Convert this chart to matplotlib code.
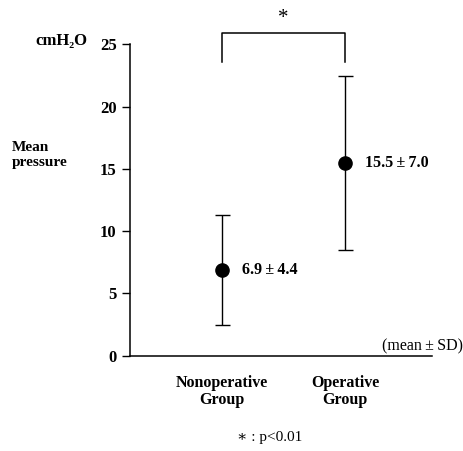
import matplotlib.pyplot as plt

groups = ["Nonoperative\nGroup", "Operative\nGroup"]
means = [6.9, 15.5]
sds = [4.4, 7.0]
labels = ["6.9\u2009\u00b1\u20094.4", "15.5\u2009\u00b1\u20097.0"]
yticks = [0, 5, 10, 15, 20, 25]

serif = ["Liberation Serif", "DejaVu Serif"]
plt.rcParams["font.family"] = serif

fig = plt.figure(figsize=(4.64, 4.51), dpi=100)
ax = fig.add_axes([0.280, 0.2113, 0.651, 0.773])

xpos = [1, 2]
ax.errorbar(xpos, means, yerr=sds, fmt="o", color="black", ms=9.5,
            capsize=5.4, capthick=1.0, elinewidth=1.0)

for x, m, lab in zip(xpos, means, labels):
    ax.text(x + 0.165, m, lab, fontsize=11.5, fontweight="bold",
            va="center", ha="left")

# significance bracket
ax.plot([1, 1, 2, 2], [23.6, 25.9, 25.9, 23.6], color="black", lw=1.1,
        clip_on=False)
ax.text(1.5, 26.3, "*", fontsize=15, ha="center", va="bottom")

ax.set_xlim(0.252, 2.707)
ax.set_ylim(0, 28)
ax.set_yticks(yticks)
ax.set_yticklabels([str(t) for t in yticks], fontsize=12, fontweight="bold")
ax.set_xticks(xpos)
ax.set_xticklabels(groups, fontsize=11.5, fontweight="bold", linespacing=1.1)
ax.tick_params(axis="x", length=0, pad=14)
ax.tick_params(axis="y", length=6, width=1.0, pad=3.5)

for s in ["top", "right"]:
    ax.spines[s].set_visible(False)
ax.spines["left"].set_bounds(0, 25)
ax.spines["left"].set_linewidth(1.1)
ax.spines["bottom"].set_linewidth(1.1)

fig.text(35 / 464, 1 - 41 / 451, "cmH\u2082O", fontsize=12, fontweight="bold",
         va="center", ha="left")
fig.text(12 / 464, 1 - 155 / 451, "Mean\npressure", fontsize=11,
         fontweight="bold", va="center", ha="left", linespacing=1.25)
fig.text(463 / 464, 1 - 346 / 451, "(mean\u2009\u00b1\u2009SD)", fontsize=11.5,
         va="center", ha="right")
fig.text(270 / 464, 1 - 437 / 451, "\u2217 : p<0.01", fontsize=11,
         va="center", ha="center")

fig.savefig("out.png", dpi=100)
